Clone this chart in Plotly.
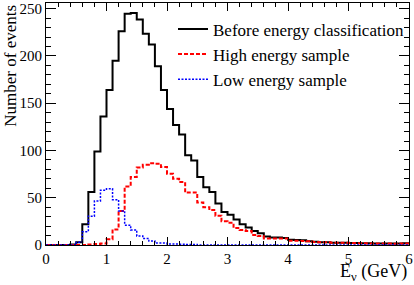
import numpy as np
import plotly.graph_objects as go

# 60 bins of 0.1 GeV from 0 to 6 GeV
bin_lo, bin_hi, n_bins = 0.0, 6.0, 60

before = [0, 0, 0, 0, 0.5, 3, 22, 56, 99, 136,
          164, 195, 226, 244.5, 245.5, 238.5, 223.5, 212, 189, 164,
          144, 127, 117, 95, 89.5, 72, 61, 56, 44, 35,
          32, 27, 22, 18.6, 14.7, 12.3, 9, 8, 8, 7.5,
          5.5, 5.3, 5, 4, 3.5, 3, 3, 2.5, 2.5, 2.5,
          2, 2, 1.8, 1.8, 1.6, 1.6, 1.5, 1.5, 1.5, 1.8]

high = [0, 0, 0, 0, 0, 0, 0, 0.5, 1, 1.5,
        6, 16.5, 36, 62, 72, 82, 85, 86.6, 86, 82.5,
        75.5, 70, 66.7, 55.5, 55.5, 45, 40, 37, 31, 25,
        23.5, 18, 15.8, 14.7, 10.5, 9.5, 7, 7, 7, 7,
        4.5, 4.5, 4.2, 4, 3.2, 3, 2.8, 2.5, 2.5, 2.3,
        2, 1.8, 1.8, 1.6, 1.6, 1.5, 1.5, 1.4, 1.5, 1.7]

low = [0, 0, 0, 0, 0, 3, 14, 30.5, 46.6, 58,
       59.5, 48, 36, 21, 16, 9.5, 7, 4.2, 2, 2,
       1, 1, 0.8, 0.5, 0.5, 0, 0, 0, 0, 0,
       0, 0, 0, 0, 0, 0, 0, 0, 0, 0,
       0, 0, 0, 0, 0, 0, 0, 0, 0, 0,
       0, 0, 0, 0, 0, 0, 0, 0, 0, 0]

names = ["Before energy classification", "High energy sample", "Low energy sample"]
x_ticks = [0, 1, 2, 3, 4, 5, 6]
y_ticks = [0, 50, 100, 150, 200, 250]

edges = np.linspace(bin_lo, bin_hi, n_bins + 1)

FONT = "Liberation Serif, Times New Roman, serif"


def step(vals):
    return list(edges), list(vals) + [vals[-1]]


fig = go.Figure()
styles = [
    dict(color="black", width=2, dash="solid"),
    dict(color="#ff0000", width=2, dash="4px,2px"),
    dict(color="#0000ff", width=1.5, dash="2px,1.5px"),
]
for i, (vals, nm, st) in enumerate(zip([before, high, low], names, styles)):
    xs, ys = step(vals)
    fig.add_trace(go.Scatter(x=xs, y=ys, mode="lines", line_shape="hv",
                             line=st, name=nm, legendgroup=f"g{i}"))

axis_common = dict(showgrid=False, zeroline=False, showline=True,
                   linecolor="black", linewidth=1, mirror="allticks",
                   ticks="inside", tickcolor="black", tickwidth=1,
                   ticklabeloverflow="allow",
                   tickfont=dict(family=FONT, size=15, color="black"))

fig.update_xaxes(range=[0, 6], tickvals=x_ticks, ticktext=[str(v) for v in x_ticks],
                 ticklen=8,
                 minor=dict(ticks="inside", dtick=0.2, ticklen=4, tickcolor="black",
                            showgrid=False),
                 **axis_common)
fig.update_yaxes(range=[0, 256], tickvals=y_ticks, ticktext=[str(v) for v in y_ticks],
                 ticklen=10,
                 minor=dict(ticks="inside", dtick=10, ticklen=5, tickcolor="black",
                            showgrid=False),
                 **axis_common)

fig.add_annotation(text="Number of events", textangle=-90, xref="paper", yref="paper",
                   x=-0.1, y=1.0, xanchor="center", yanchor="top", showarrow=False,
                   font=dict(family=FONT, size=17, color="black"))
fig.add_annotation(text="E<sub>ν</sub> (GeV)", xref="paper", yref="paper",
                   x=1.0, y=-0.115, xanchor="right", yanchor="middle", showarrow=False,
                   font=dict(family=FONT, size=18, color="black"))

fig.update_layout(
    width=414, height=285,
    margin=dict(l=46, r=5, t=1, b=40),
    paper_bgcolor="white", plot_bgcolor="white",
    showlegend=True,
    legend=dict(x=1.0, y=0.965, xanchor="right", yanchor="top",
                bgcolor="rgba(0,0,0,0)", font=dict(family=FONT, size=17, color="black"),
                tracegroupgap=0, itemwidth=30),
)

fig.write_html("out.html", config={"displayModeBar": False},
               post_script="document.body.style.margin='0';document.body.style.overflow='hidden';")
